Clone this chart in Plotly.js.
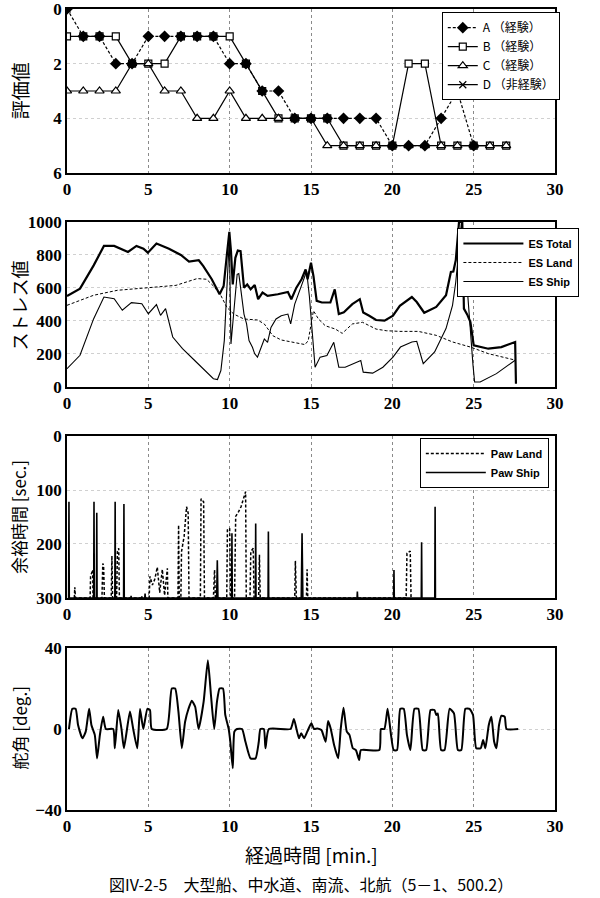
<!DOCTYPE html>
<html>
<head>
<meta charset="utf-8">
<script src="https://cdn.plot.ly/plotly-3.0.1.min.js"></script>
<style>body{margin:0;background:#fff}</style>
</head>
<body>
<div id="graph" style="width:600px;height:898px"></div>
<script>
// --- panel 1: evaluation values (0 = best, 6 = worst) ---
let evalTime = [0,1,2,3,4,5,6,7,8,9,10,11,12,13,14,15,16,17,18,19,20,21,22,23,24,25,26,27];
let evalA = [0,1,1,2,2,1,1,1,1,1,2,2,3,3,4,4,4,4,4,4,5,5,5,4,3,5];
let evalB = [1,1,1,1,2,2,2,1,1,1,1,2,3,4,4,4,4,5,5,5,5,2,2,5,5,5,5,5];
let evalC = [3,3,3,3,2,2,3,3,4,4,3,4,4,4,4,4,5,5,5,5,5,5,5,5,5,5,5,5];
let evalDTime = [0];
let evalD = [0];

// --- panel 2: stress values ---
let esTotalT = [0,0.8,1.64,2.27,2.9,3.75,4.27,4.7,4.97,5.5,6.27,7.0,7.5,8.1,8.38,8.9,9.38,9.63,9.83,9.98,10.08,10.19,10.35,10.5,10.67,10.88,11.08,11.29,11.54,11.75,12.02,12.33,12.96,13.58,13.79,14.1,14.42,14.67,14.79,15.0,15.15,15.35,15.67,16.19,16.46,16.71,17.02,17.54,18.0,18.21,18.58,19.0,19.52,20.04,20.46,21.2,21.5,21.96,22.7,23.3,23.6,23.75,23.9,24.1,24.3,24.4,24.6,24.8,25.0,25.5,25.9,26.7,27.55,27.6];
let esTotal = [551,596,737,855,855,818,855,838,814,869,838,800,760,768,733,653,562,612,803,940,823,622,783,827,823,602,622,592,618,532,572,552,562,576,532,602,653,713,653,753,673,522,512,512,592,442,452,502,532,452,432,406,402,432,492,545,515,450,485,556,697,700,768,1000,1000,475,440,394,253,240,232,242,273,20];
let esLandT = [0,1.64,3.1,5,6.7,8,8.58,9.0,9.42,9.83,10.25,10.88,11.71,12.13,12.65,13.17,14.0,14.63,14.83,15.15,15.46,15.88,16.5,16.92,17.54,18.17,19.0,19.63,20.46,21.6,22.7,23.7,24.8,25.9,27.6];
let esLand = [495,556,586,600,616,657,653,612,562,482,442,412,406,382,311,285,271,257,281,462,412,371,351,325,382,392,351,341,337,337,313,273,242,202,162];
let esShipT = [0,0.8,1.64,2.27,2.9,3.4,3.96,4.6,5.0,5.5,5.75,6.06,6.5,7.1,7.96,8.5,9.0,9.25,9.46,9.67,9.88,9.98,10.08,10.29,10.46,10.56,10.88,11.04,11.19,11.4,11.54,11.71,11.92,12.13,12.33,12.54,12.85,13.17,13.58,13.75,14.0,14.31,14.52,14.73,14.9,15.25,15.56,15.98,16.4,16.71,17.1,18.06,18.21,18.79,19.42,20.04,20.5,21.2,21.5,21.9,22.6,23.3,23.7,23.9,24.1,24.25,24.5,24.75,24.96,25.06,25.4,26.4,27.55];
let esShip = [111,192,414,545,535,465,511,505,444,499,434,475,303,232,150,100,50,45,100,281,743,900,261,522,683,687,442,382,281,241,201,181,241,291,271,361,412,432,442,382,502,582,643,703,550,120,181,191,271,120,120,161,90,84,120,181,242,273,277,141,212,354,495,636,838,1000,737,374,131,30,30,81,162];

// --- panel 3: margin time [sec.] (spikes from 300) ---
let pawLandT = [0.45,0.48,0.52, 1.42,1.45,1.5,1.58,1.6, 2.15,2.2,2.25,2.3, 2.72,2.76,2.8, 3.05,3.1,3.18,3.22, 5.05,5.1,5.25,5.4,5.55,5.7,5.86,6.0,6.17,6.2, 6.82,6.86,6.9,7.0,7.04,7.2,7.35,7.45,7.5, 8.2,8.24,8.4,8.45, 9.0,9.07,9.12, 9.82,9.86,10.0,10.05,10.3,10.37,10.55,10.7,10.98,11.02, 11.25,11.3,11.45,11.5,11.78,11.83,11.88, 14.0,14.04,14.1,14.72,14.76,14.8, 20.85,20.9,21.1,21.15];
let pawLand = [300,280,300, 300,260,255,248,300, 300,236,240,300, 300,222,300, 300,214,208,300, 300,260,276,265,243,290,247,295,245,300, 300,165,300,300,214,186,131,143,300, 300,116,122,300, 300,248,300, 300,174,171,300,300,149,140,131,103,300, 300,214,208,300,300,220,300, 300,231,300,300,247,300, 300,217,213,300];
let pawShipT = [0.1,0.12,0.14, 1.64,1.66,1.68, 1.81,1.83,1.85, 2.94,2.96,2.98, 3.48,3.5,3.52, 3.93,3.94,3.95, 4.58,4.6,4.62, 4.78,4.8,4.82, 9.2,9.24,9.28, 10.12,10.14,10.16, 11.58,11.6,11.62, 12.36,12.38,12.4, 14.4,14.45,14.5, 17.83,17.85,17.87, 20.08,20.1,20.12, 21.78,21.8,21.82, 22.61,22.63,22.65];
let pawShip = [300,122,300, 300,122,300, 300,142,300, 300,122,300, 300,126,300, 300,296,300, 300,297,300, 300,292,300, 300,230,300, 300,180,300, 300,162,300, 300,177,300, 300,180,300, 300,288,300, 300,248,300, 300,197,300, 300,131,300];

// --- panel 4: rudder angle [deg.] ---
let rudderT = [0.12,0.33,0.53,0.68,0.95,1.15,1.36,1.5,1.71,1.85,2.02,2.22,2.39,2.84,2.94,3.15,3.35,3.5,3.87,4.07,4.32,4.49,4.69,4.94,5.1,5.21,6.13,6.44,6.65,6.85,7.06,7.26,7.47,7.67,7.88,8.09,8.4,8.66,8.85,9.05,9.22,9.38,9.59,9.73,9.94,10.04,10.19,10.29,10.45,10.76,10.97,11.28,11.59,11.79,11.89,12.1,12.2,12.41,13.74,13.95,14.1,14.26,14.4,14.57,14.77,15.02,15.19,15.39,15.64,15.9,16.05,16.21,16.42,16.67,16.83,17.0,17.2,17.37,17.57,17.76,17.96,18.07,19.2,19.3,19.51,19.71,19.92,20.08,20.29,20.49,20.7,20.9,21.11,21.36,21.6,21.87,22.08,22.35,22.59,22.7,22.8,23.0,23.21,23.52,23.79,24.03,24.24,24.49,24.75,24.96,25.16,25.43,25.58,25.72,25.93,26.09,26.26,26.4,26.56,26.71,26.91,27.02,27.74];
let rudder = [0,10,10,2,-4.6,-1.3,10,2,-3,-14.5,-3,6,0,0,-9.5,9.4,0,-9.5,8.6,0,-9.5,9.9,0,10,9.4,0,0,20,20,8.6,-9.5,3.6,10,14,11,0,13.5,34,16.8,0,13.5,20,20,7,0,-6.3,-19.4,-1.3,0,0,-6.3,-14.5,-14.5,-6.3,0,0,-9.5,0,0,5,0.3,-4.6,-2.1,-4.6,-1.3,2.8,0,0.3,-0.5,-6.3,4,0.3,-7.9,-14.5,0.3,10.5,-1.3,-3,-9.5,-10.4,-15.3,-10.4,-10.4,0,0,10,-3,-10.4,-10.4,10,10,-3,-10.4,10,10,-10.4,-10.4,9.4,9.4,6.9,7.7,-10.4,-10.4,10,7.7,-10.4,-10.4,10,10,6.9,-9.5,-9.5,-5.4,-9.5,2,6,-6.3,-9.5,2,6.6,6,0,0];

let timeTicks = [0,5,10,15,20,25,30];
let evalTicks = [0,2,4,6];
let stressTicks = [0,200,400,600,800,1000];
let marginTicks = [0,100,200,300];
let rudderTicks = [-40,0,40];

const tickFont = {family: "Liberation Serif", size: 17, color: "#000", weight: "bold"};
const jpFont = "Noto Sans CJK JP";

function xAxis(anchor) {
  return {
    anchor: anchor, domain: [0, 1], range: [0, 30], tickvals: timeTicks,
    showline: true, mirror: true, linecolor: "#000", linewidth: 1.5,
    showgrid: true, gridcolor: "#8a8a8a", griddash: "dot", gridwidth: 1,
    zeroline: false, ticks: "", tickfont: tickFont, ticklabeloverflow: "allow"
  };
}
function yAxis(anchor, domain, range, ticks) {
  return {
    anchor: anchor, domain: domain, range: range, tickvals: ticks,
    showline: true, mirror: true, linecolor: "#000", linewidth: 1.5,
    showgrid: true, gridcolor: "#d0d0d0", griddash: "dot", gridwidth: 1,
    zeroline: false, ticks: "", tickfont: tickFont, ticklabeloverflow: "allow"
  };
}

let data = [
  {x: evalTime, y: evalB, name: "B （経験）", legendrank: 2, xaxis: "x", yaxis: "y", legend: "legend",
   mode: "lines+markers", line: {color: "#000", width: 1.2},
   marker: {symbol: "square", size: 7, color: "#fff", line: {color: "#000", width: 1.2}}},
  {x: evalTime, y: evalC, name: "C （経験）", legendrank: 3, xaxis: "x", yaxis: "y", legend: "legend",
   mode: "lines+markers", line: {color: "#000", width: 1.2},
   marker: {symbol: "triangle-up", size: 8, color: "#fff", line: {color: "#000", width: 1.2}}},
  {x: evalTime, y: evalA, name: "A （経験）", legendrank: 1, xaxis: "x", yaxis: "y", legend: "legend",
   mode: "lines+markers", line: {color: "#000", width: 1.2, dash: "3px,2px"},
   marker: {symbol: "diamond", size: 9, color: "#000"}},
  {x: evalDTime, y: evalD, name: "D （非経験）", legendrank: 4, xaxis: "x", yaxis: "y", legend: "legend",
   mode: "lines+markers", line: {color: "#000", width: 1.2},
   marker: {symbol: "x-thin", size: 7, line: {color: "#000", width: 1.2}}},

  {x: esTotalT, y: esTotal, name: "ES Total", xaxis: "x2", yaxis: "y2", legend: "legend2",
   mode: "lines", line: {color: "#000", width: 2.2}},
  {x: esLandT, y: esLand, name: "ES Land", xaxis: "x2", yaxis: "y2", legend: "legend2",
   mode: "lines", line: {color: "#000", width: 1, dash: "3px,2px"}},
  {x: esShipT, y: esShip, name: "ES Ship", xaxis: "x2", yaxis: "y2", legend: "legend2",
   mode: "lines", line: {color: "#000", width: 1.1}},

  {x: pawLandT, y: pawLand, name: "Paw Land", xaxis: "x3", yaxis: "y3", legend: "legend3",
   mode: "lines", line: {color: "#000", width: 1.5, dash: "3px,2px"}},
  {x: pawShipT, y: pawShip, name: "Paw Ship", xaxis: "x3", yaxis: "y3", legend: "legend3",
   mode: "lines", line: {color: "#000", width: 1.6}},

  {x: rudderT, y: rudder, name: "舵角", xaxis: "x4", yaxis: "y4", showlegend: false,
   mode: "lines", line: {color: "#000", width: 2, shape: "spline", smoothing: 0.5}}
];

function yTitle(text, y, size) {
  return {text: text, xref: "paper", yref: "paper", x: -0.098, y: y, textangle: -90,
          xanchor: "center", yanchor: "middle",
          showarrow: false, font: {family: jpFont, size: size, color: "#000"}};
}

let legendBase = {
  bgcolor: "#fff", bordercolor: "#000", borderwidth: 1,
  xanchor: "left", yanchor: "top", tracegroupgap: 0
};

let layout = {
  width: 600, height: 898,
  margin: {l: 67, r: 45, t: 9, b: 88},
  paper_bgcolor: "#fff", plot_bgcolor: "#fff",
  font: {family: "Liberation Serif, " + jpFont, color: "#000"},
  xaxis: xAxis("y"),
  xaxis2: xAxis("y2"),
  xaxis3: xAxis("y3"),
  xaxis4: xAxis("y4"),
  yaxis: yAxis("x", [0.7953, 1], [6, 0], evalTicks),
  yaxis2: yAxis("x2", [0.5281, 0.7341], [0, 1000], stressTicks),
  yaxis3: yAxis("x3", [0.2647, 0.4669], [300, 0], marginTicks),
  yaxis4: yAxis("x4", [0, 0.2022], [-40, 40], rudderTicks),
  legend: Object.assign({}, legendBase, {x: 0.768, y: 0.996,
    traceorder: "normal", font: {family: jpFont, size: 12, color: "#000"}}),
  legend2: Object.assign({}, legendBase, {x: 0.80, y: 0.7266, itemwidth: 60,
    font: {family: "Liberation Sans", size: 11, color: "#000", weight: "bold"}}),
  legend3: Object.assign({}, legendBase, {x: 0.723, y: 0.4644, itemwidth: 60,
    font: {family: "Liberation Sans", size: 11, color: "#000", weight: "bold"}}),
  annotations: [
    yTitle("評価値", 0.8976, 19),
    yTitle("ストレス値", 0.630, 18),
    yTitle("余裕時間 [sec.]", 0.366, 17),
    yTitle("舵角 [deg.]", 0.102, 17),
    {text: "経過時間 [min.]", xref: "paper", yref: "paper", x: 0.5, y: -0.056,
     xanchor: "center", yanchor: "middle",
     showarrow: false, font: {family: jpFont, size: 19, color: "#000"}},
    {text: "図IV-2-5　大型船、中水道、南流、北航（5－1、500.2）", xref: "paper", yref: "paper",
     x: 0.5, y: -0.0924, xanchor: "center", yanchor: "middle",
     showarrow: false, font: {family: jpFont, size: 16, color: "#000"}}
  ]
};

Plotly.newPlot("graph", data, layout, {displayModeBar: false});
</script>
</body>
</html>
